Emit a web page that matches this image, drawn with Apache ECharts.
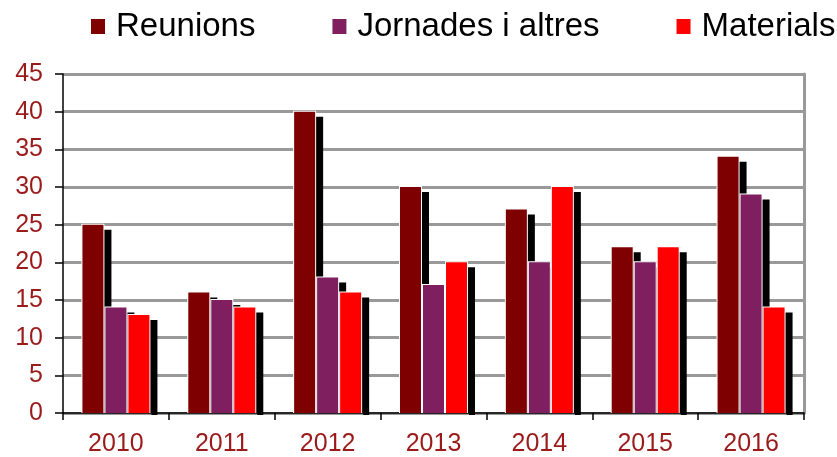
<!DOCTYPE html>
<html><head><meta charset="utf-8">
<script src="https://cdn.jsdelivr.net/npm/echarts@6/dist/echarts.min.js"></script>
<style>html,body{margin:0;padding:0;background:#fff}#c{width:837px;height:457px}</style>
</head><body><div id="c"></div>
<script>
const categories = ['2010','2011','2012','2013','2014','2015','2016'];
const reunions = [25,16,40,30,27,22,34];
const jornades = [14,15,18,17,20,20,29];
const materials = [13,14,16,20,30,22,14];
const seriesNames = ['Reunions','Jornades i altres','Materials'];
const colors = ['#7F0000','#7F1F5F','#FF0000'];
const labelColor = '#9B1B1B';
const FONT = 'Liberation Sans, Arial, sans-serif';

const BAR_W = 21, STEP = 23, SH_DX = 8, SH_DY = 5;

const chart = echarts.init(document.getElementById('c'), null, {renderer:'canvas'});

function makeSeries(k, values) {
  return {
    name: seriesNames[k], type: 'custom',
    itemStyle: {color: colors[k]},
    encode: {x: 0, y: 1},
    data: categories.map((c, i) => [i, values[i]]),
    renderItem: function (params, api) {
      const top = api.coord([api.value(0), api.value(1)]);
      const base = api.coord([api.value(0), 0]);
      const left = top[0] + (k - 1) * STEP - BAR_W / 2;
      const h = base[1] - top[1];
      const children = [
        {type: 'rect', shape: {x: left + SH_DX, y: top[1] + SH_DY, width: BAR_W, height: h - SH_DY},
         style: {fill: '#000'}}
      ];
      if (k === seriesNames.length - 1) {
        children.push({type: 'rect', shape: {x: left + BAR_W + 2, y: base[1] - 1, width: SH_DX - 2, height: 3},
          style: {fill: '#000'}});
      }
      children.push(
        {type: 'rect', shape: {x: left - 1, y: top[1] - 1, width: BAR_W + 2, height: h + 1},
         style: {fill: '#fff'}},
        {type: 'rect', shape: {x: left, y: top[1], width: BAR_W, height: h},
         style: {fill: colors[k]}}
      );
      return {type: 'group', children};
    },
    animation: false
  };
}

chart.setOption({
  animation: false,
  textStyle: {fontFamily: FONT},
  grid: {left: 63, right: 33, top: 74, bottom: 44},
  legend: {
    top: 10, left: 91, width: 760, itemWidth: 14, itemHeight: 15, itemGap: 77,
    icon: 'rect', padding: 0,
    textStyle: {fontSize: 33, color: '#000', fontFamily: FONT, padding: [0, 0, 0, 6]},
    data: seriesNames.map((n, k) => ({name: n, itemStyle: {color: colors[k]}}))
  },
  xAxis: {
    type: 'category', data: categories,
    axisLine: {lineStyle: {color: '#000', width: 1.5}},
    axisTick: {show: true, length: 7, alignWithLabel: false, lineStyle: {color: '#000', width: 1.5}},
    axisLabel: {fontSize: 25, color: labelColor, margin: 19, fontFamily: FONT},
    splitLine: {show: false}
  },
  yAxis: [{
    type: 'value', min: 0, max: 45, interval: 5,
    axisLine: {show: true, lineStyle: {color: '#000', width: 1.5}},
    axisTick: {show: true, length: 8, lineStyle: {color: '#000', width: 1.5}},
    axisLabel: {fontSize: 25, color: labelColor, margin: 20, fontFamily: FONT},
    splitLine: {show: true, lineStyle: {color: '#999', width: 3}}
  }, {
    type: 'value', min: 0, max: 45, interval: 5, position: 'right',
    axisLine: {show: true, lineStyle: {color: '#999', width: 3}},
    axisTick: {show: false}, axisLabel: {show: false}, splitLine: {show: false}
  }],
  series: [
    makeSeries(0, reunions),
    makeSeries(1, jornades),
    makeSeries(2, materials)
  ]
});
</script></body></html>
